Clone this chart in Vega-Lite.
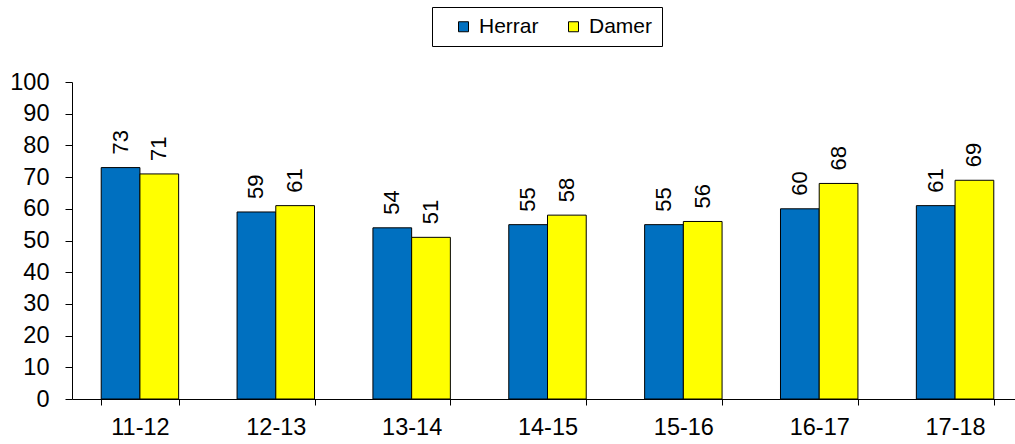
{
  "$schema": "https://vega.github.io/schema/vega-lite/v6.json",
  "width": 943,
  "height": 317,
  "autosize": {"type": "none"},
  "padding": {"left": 72, "top": 82, "right": 0, "bottom": 45},
  "config": {
    "font": "Liberation Sans",
    "view": {"stroke": null},
    "axis": {"labelFont": "Liberation Sans", "labelFontSize": 23.5, "labelColor": "black", "domainColor": "black", "tickColor": "black", "grid": false, "title": null}
  },
  "data": {
    "values": [
      {"season": "11-12", "kon": "Herrar", "varde": 73},
      {"season": "11-12", "kon": "Damer", "varde": 71},
      {"season": "12-13", "kon": "Herrar", "varde": 59},
      {"season": "12-13", "kon": "Damer", "varde": 61},
      {"season": "13-14", "kon": "Herrar", "varde": 54},
      {"season": "13-14", "kon": "Damer", "varde": 51},
      {"season": "14-15", "kon": "Herrar", "varde": 55},
      {"season": "14-15", "kon": "Damer", "varde": 58},
      {"season": "15-16", "kon": "Herrar", "varde": 55},
      {"season": "15-16", "kon": "Damer", "varde": 56},
      {"season": "16-17", "kon": "Herrar", "varde": 60},
      {"season": "16-17", "kon": "Damer", "varde": 68},
      {"season": "17-18", "kon": "Herrar", "varde": 61},
      {"season": "17-18", "kon": "Damer", "varde": 69}
    ]
  },
  "encoding": {
    "x": {
      "field": "season", "type": "nominal",
      "scale": {"paddingInner": 0.43, "paddingOuter": 0.215, "range": [0, 951]},
      "axis": {"labelAngle": 0, "tickBand": "extent", "tickSize": 6, "labelPadding": 10, "domainWidth": 1}
    },
    "xOffset": {"field": "kon", "type": "nominal", "sort": ["Herrar", "Damer"], "scale": {"paddingInner": 0, "paddingOuter": 0}},
    "y": {
      "field": "varde", "type": "quantitative",
      "scale": {"domain": [0, 100], "nice": false},
      "axis": {"values": [0,10,20,30,40,50,60,70,80,90,100], "tickSize": 7, "labelPadding": 16, "labelBaseline": "middle"}
    }
  },
  "layer": [
    {
      "mark": {"type": "bar", "stroke": "black", "strokeWidth": 1},
      "encoding": {
        "color": {
          "field": "kon", "type": "nominal", "sort": ["Herrar", "Damer"],
          "scale": {"domain": ["Herrar", "Damer"], "range": ["#0070C0", "#FFFF00"]},
          "legend": {
            "title": "\u00a0", "titleOrient": "left", "titlePadding": 12, "titleFontSize": 21,
            "orient": "none", "direction": "horizontal",
            "legendX": 360, "legendY": -75,
            "symbolType": "square", "symbolSize": 100, "symbolStrokeColor": "black", "symbolStrokeWidth": 1,
            "labelFont": "Liberation Sans", "labelFontSize": 21, "labelColor": "black",
            "strokeColor": "black", "padding": 9, "columnPadding": 24, "labelOffset": 5,
            "offset": 0
          }
        }
      }
    },
    {
      "mark": {"type": "text", "angle": 270, "align": "left", "baseline": "middle", "dx": 13, "fontSize": 22, "font": "Liberation Sans", "color": "black"},
      "encoding": {"text": {"field": "varde", "type": "quantitative"}}
    }
  ]
}
